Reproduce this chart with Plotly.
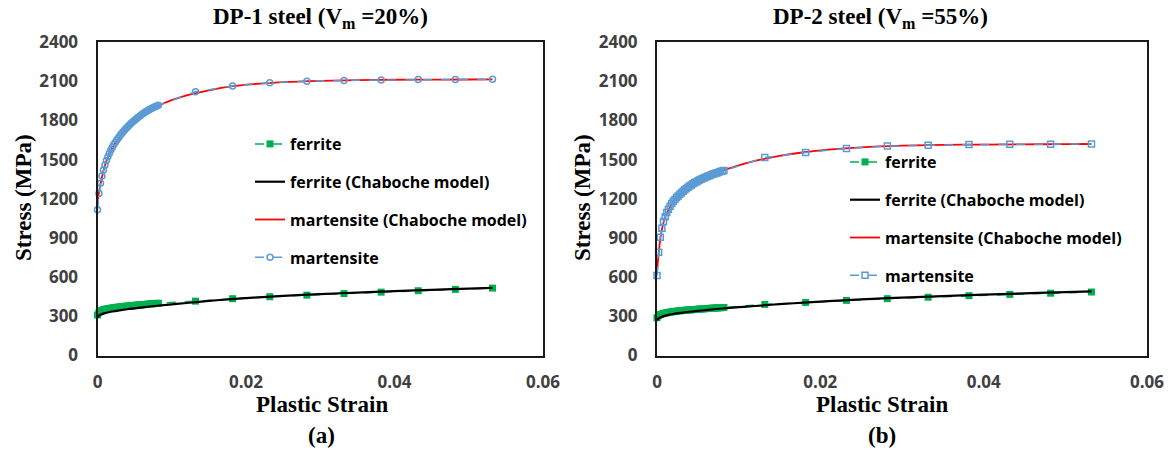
import plotly.graph_objects as go

# ---------------- data ----------------
# Dense experimental strain readings (first part of each curve)
strain_dense = [0.0000, 0.0002, 0.0004, 0.0006, 0.0008, 0.0010, 0.0012, 0.0014,
                0.0016, 0.0018, 0.0020, 0.0022, 0.0024, 0.0026, 0.0028, 0.0030,
                0.0032, 0.0034, 0.0036, 0.0038, 0.0040, 0.0042, 0.0044, 0.0046,
                0.0048, 0.0050, 0.0052, 0.0054, 0.0056, 0.0058, 0.0060, 0.0062,
                0.0064, 0.0066, 0.0068, 0.0070, 0.0072, 0.0074, 0.0076, 0.0078,
                0.0080, 0.0082]
# Sparse experimental strain readings (tail of each curve)
strain_sparse = [0.0132, 0.0182, 0.0232, 0.0282, 0.0332, 0.0382, 0.0432, 0.0482, 0.0532]

# Strain values at which the Chaboche model curves are tabulated
strain_model = [0.0, 0.0002, 0.0005, 0.001, 0.0015, 0.002, 0.003, 0.004, 0.005,
                0.006, 0.007, 0.008, 0.010, 0.012, 0.015, 0.018, 0.021, 0.025,
                0.030, 0.035, 0.040, 0.045, 0.050, 0.0532]

# DP-1 steel (Vm = 20%)
dp1_ferrite_dense = [310, 330, 340, 346, 350, 353, 356, 358, 360, 362, 364, 366,
                     367, 369, 370, 372, 373, 374, 376, 377, 378, 379, 380, 381,
                     382, 384, 385, 386, 387, 388, 389, 390, 391, 392, 393, 394,
                     395, 396, 397, 398, 399, 400]
dp1_ferrite_sparse = [416, 435, 450, 462, 474, 485, 496, 506, 516]
dp1_martensite_dense = [1115, 1240, 1318, 1375, 1420, 1458, 1492, 1522, 1549, 1573,
                        1595, 1615, 1633, 1650, 1666, 1681, 1695, 1709, 1722, 1735,
                        1747, 1759, 1770, 1781, 1791, 1801, 1811, 1820, 1829, 1838,
                        1846, 1854, 1862, 1869, 1876, 1883, 1889, 1895, 1901, 1906,
                        1911, 1916]
dp1_martensite_sparse = [2019, 2063, 2088, 2100, 2106, 2110, 2112, 2113, 2114]
dp1_ferrite_model = [292, 305, 315, 324, 331, 337, 346, 354, 361, 368, 375, 381,
                     392, 402, 418, 432, 443, 457, 470, 482, 493, 503, 512, 518]
dp1_martensite_model = [1180, 1250, 1340, 1455, 1530, 1590, 1675, 1745, 1798, 1842,
                        1878, 1908, 1955, 1992, 2030, 2060, 2078, 2093, 2103, 2108,
                        2111, 2112, 2113, 2114]

# DP-2 steel (Vm = 55%)
dp2_ferrite_dense = [289, 305, 313, 318, 322, 325, 328, 330, 332, 334, 336, 338,
                     339, 341, 342, 344, 345, 346, 347, 348, 349, 350, 351, 352,
                     353, 354, 355, 356, 357, 358, 359, 360, 361, 361, 362, 363,
                     364, 364, 365, 366, 367, 368]
dp2_ferrite_sparse = [391, 406, 422, 435, 446, 458, 468, 477, 486]
dp2_martensite_dense = [613, 790, 905, 975, 1025, 1063, 1094, 1120, 1143, 1163,
                        1180, 1195, 1209, 1222, 1234, 1246, 1257, 1268, 1278, 1288,
                        1297, 1306, 1314, 1322, 1329, 1336, 1343, 1349, 1355, 1361,
                        1367, 1372, 1377, 1382, 1387, 1392, 1396, 1400, 1404, 1408,
                        1412, 1416]
dp2_martensite_sparse = [1516, 1554, 1585, 1603, 1610, 1615, 1617, 1618, 1619]
dp2_ferrite_model = [270, 284, 295, 305, 312, 318, 327, 335, 342, 348, 354, 360,
                     370, 379, 393, 405, 416, 429, 443, 455, 466, 476, 485, 491]
dp2_martensite_model = [640, 780, 930, 1060, 1125, 1175, 1245, 1297, 1337, 1368,
                        1394, 1415, 1456, 1490, 1528, 1556, 1576, 1594, 1606, 1612,
                        1615, 1617, 1618, 1619]

x_ticks = [0, 0.02, 0.04, 0.06]
x_tick_text = ["0", "0.02", "0.04", "0.06"]
y_ticks = [0, 300, 600, 900, 1200, 1500, 1800, 2100, 2400]
y_tick_text = ["0", "300", "600", "900", "1200", "1500", "1800", "2100", "2400"]

names = ["ferrite", "ferrite (Chaboche model)",
         "martensite (Chaboche model)", "martensite"]

# ---------------- styling ----------------
GREEN = "#00B050"
BLUE = "#5B9BD5"
RED = "#FF0000"
SERIF = "Liberation Serif"
SANS = "Open Sans"
W, H = 1171, 453


def px_x(p):
    return p / W


def px_y(p):
    return 1 - p / H


fig = go.Figure()


def add_panel(xa, ya, leg, f_dense, f_sparse, m_dense, m_sparse, f_model, m_model, msym):
    common = dict(xaxis=xa, yaxis=ya, legend=leg, cliponaxis=False)
    fig.add_trace(go.Scatter(
        x=strain_dense + strain_sparse, y=f_dense + f_sparse, name=names[0],
        legendgroup=leg + "a", mode="lines+markers",
        line=dict(color=GREEN, width=1.5, dash="dash"),
        marker=dict(symbol="square", size=7, color=GREEN), **common))
    fig.add_trace(go.Scatter(
        x=strain_model, y=f_model, name=names[1], legendgroup=leg + "b",
        mode="lines", line=dict(color="black", width=2.2, shape="spline"), **common))
    fig.add_trace(go.Scatter(
        x=strain_model, y=m_model, name=names[2], legendgroup=leg + "c",
        mode="lines", line=dict(color=RED, width=1.8, shape="spline"), **common))
    fig.add_trace(go.Scatter(
        x=strain_dense + strain_sparse, y=m_dense + m_sparse, name=names[3],
        legendgroup=leg + "d", mode="lines+markers",
        line=dict(color=BLUE, width=1.5, dash="dash"),
        marker=dict(symbol=msym, size=6, color=BLUE, line=dict(color=BLUE, width=1.5)),
        **common))


add_panel("x", "y", "legend", dp1_ferrite_dense, dp1_ferrite_sparse,
          dp1_martensite_dense, dp1_martensite_sparse,
          dp1_ferrite_model, dp1_martensite_model, "circle-open")
add_panel("x2", "y2", "legend2", dp2_ferrite_dense, dp2_ferrite_sparse,
          dp2_martensite_dense, dp2_martensite_sparse,
          dp2_ferrite_model, dp2_martensite_model, "square-open")

axis_common = dict(showgrid=False, zeroline=False, showline=True, mirror=True,
                   linecolor="#1a1a1a", linewidth=2, ticks="", automargin=False,
                   tickfont=dict(family=SANS, size=17, color="#404040", weight="bold"))

xaxis_common = dict(range=[0, 0.06], tickvals=x_ticks, ticktext=x_tick_text,
                    ticklabelstandoff=10, **axis_common)
yaxis_common = dict(range=[0, 2400], tickvals=y_ticks, ticktext=y_tick_text,
                    ticklabelstandoff=14, **axis_common)

legend_common = dict(font=dict(family=SANS, size=16, color="black", weight="bold"),
                     bgcolor="rgba(0,0,0,0)", traceorder="grouped",
                     tracegroupgap=14, itemwidth=30, xanchor="left", yanchor="top")

fig.update_layout(
    width=W, height=H,
    margin=dict(l=0, r=0, t=0, b=0, autoexpand=False),
    paper_bgcolor="white", plot_bgcolor="white",
    xaxis=dict(domain=[px_x(97.5), px_x(543)], anchor="y", **xaxis_common),
    yaxis=dict(domain=[px_y(355.5), px_y(42)], anchor="x", **yaxis_common),
    xaxis2=dict(domain=[px_x(657), px_x(1147)], anchor="y2", **xaxis_common),
    yaxis2=dict(domain=[px_y(355.5), px_y(42)], anchor="x2", **yaxis_common),
    legend=dict(x=px_x(250), y=px_y(127), **legend_common),
    legend2=dict(x=px_x(845), y=px_y(145), **legend_common),
)

ann_font = dict(family=SERIF, size=23, color="black", weight="bold")
annotations = [
    (320, 18, "DP-1 steel (V<sub>m</sub> =20%)", 0),
    (880, 18, "DP-2 steel (V<sub>m</sub> =55%)", 0),
    (322, 404, "Plastic Strain", 0),
    (882, 404, "Plastic Strain", 0),
    (322, 435, "(a)", 0),
    (882, 435, "(b)", 0),
    (23, 198, "Stress (MPa)", -90),
    (582, 198, "Stress (MPa)", -90),
]
for ax_, ay_, txt, ang in annotations:
    fig.add_annotation(x=px_x(ax_), y=px_y(ay_), xref="paper", yref="paper",
                       text=txt, showarrow=False, textangle=ang,
                       xanchor="center", yanchor="middle", font=ann_font)

fig.write_html("out.html")
